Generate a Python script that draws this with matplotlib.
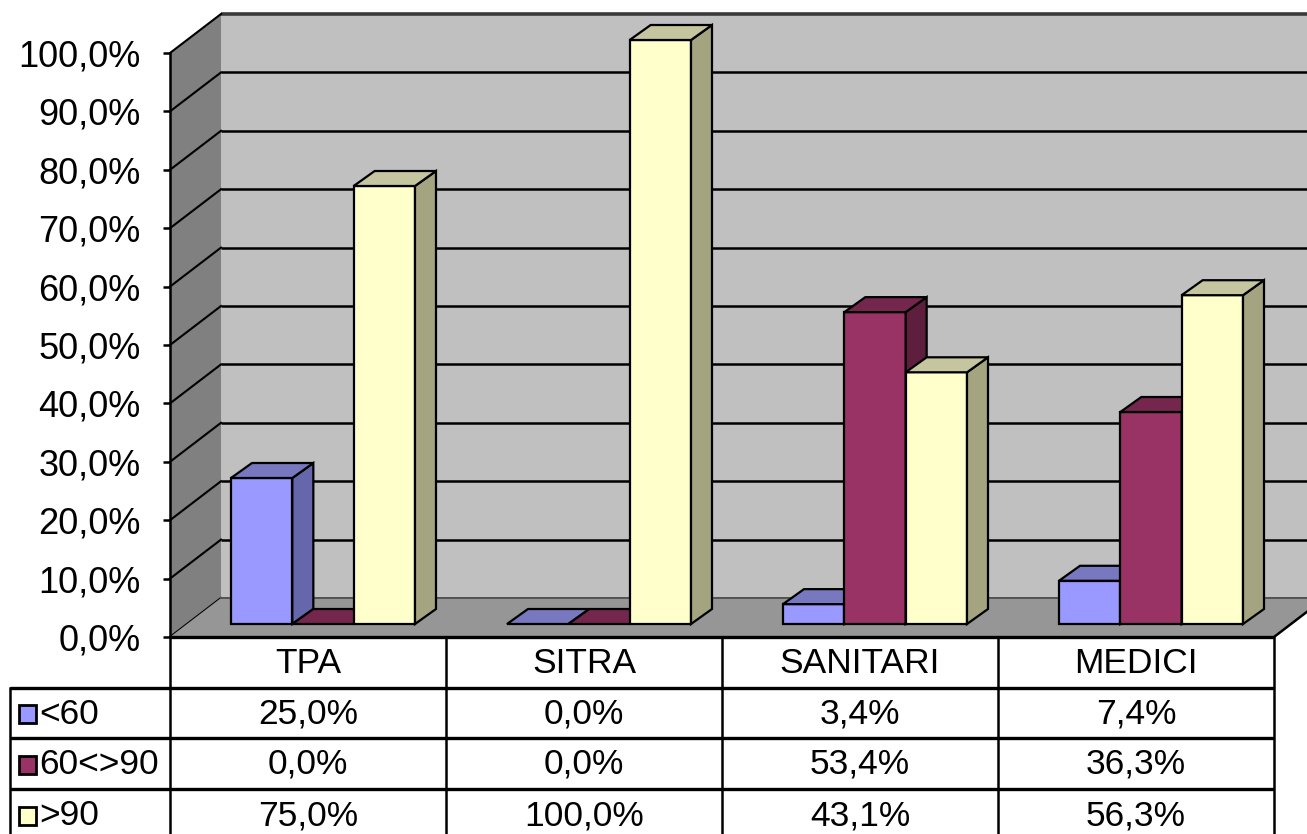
import matplotlib
matplotlib.use("Agg")
import matplotlib.pyplot as plt
from matplotlib.patches import Polygon, Rectangle
from matplotlib.ticker import FuncFormatter

# ---------------- data ----------------
categories = ["TPA", "SITRA", "SANITARI", "MEDICI"]
series_names = ["<60", "60<>90", ">90"]
s_lt60 = [25.0, 0.0, 3.4, 7.4]
s_60_90 = [0.0, 0.0, 53.4, 36.3]
s_gt90 = [75.0, 100.0, 43.1, 56.3]
series_values = [s_lt60, s_60_90, s_gt90]
y_ticks = [0, 10, 20, 30, 40, 50, 60, 70, 80, 90, 100]

# ---------------- style ----------------
front_cols = ["#9999FF", "#993366", "#FFFFCC"]
side_cols = ["#6666AA", "#5E1F3E", "#A4A481"]
top_cols = ["#7878C0", "#74264C", "#C5C59F"]
FONT = "Liberation Sans"
FS_AX = 26
FS_TB = 25.5

W, H = 1307, 834
DPI = 100
fig = plt.figure(figsize=(W / DPI, H / DPI), dpi=DPI)
fig.patch.set_facecolor("white")

# front plane of the 3D box
X0, Y0 = 170, 637
PX_CAT, PX_PCT = 276, 5.84
ax = fig.add_axes([X0 / W, (H - Y0) / H, 4 * PX_CAT / W, 100 * PX_PCT / H])
ax.set_xlim(0, len(categories))
ax.set_ylim(0, 100)
ax.patch.set_visible(False)
for s in ["top", "right", "bottom"]:
    ax.spines[s].set_visible(False)
ax.spines["left"].set_linewidth(1.8)
ax.spines["left"].set_zorder(5)
ax.set_xticks([])
ax.set_yticks(y_ticks)
ax.yaxis.set_major_formatter(FuncFormatter(lambda v, p: f"{v:.1f}%".replace(".", ",")))
ax.tick_params(axis="y", direction="out", length=5, width=1.8, pad=16)
for lab in ax.get_yticklabels():
    lab.set_fontfamily(FONT)
    lab.set_fontsize(FS_AX)

# pixel -> data scale
p0 = ax.transData.transform((0, 0))
p1 = ax.transData.transform((1, 1))
sx, sy = p1[0] - p0[0], p1[1] - p0[1]
scale = DPI / 100.0


def off(dx_px, dy_px):
    return dx_px * scale / sx, dy_px * scale / sy


wx, wy = off(51, 39)   # full depth of the box
fx, fy = off(15, 13)   # bar front plane
bx, by = off(36, 28)   # bar back plane
ncat = len(categories)

# left wall
ax.add_patch(Polygon([(0, 0), (0, 100), (wx, 100 + wy), (wx, wy)], closed=True,
                     facecolor="#808080", edgecolor="none", zorder=0.5, clip_on=False))
# back wall
ax.add_patch(Polygon([(wx, wy), (wx, 100 + wy), (ncat + wx, 100 + wy), (ncat + wx, wy)],
                     closed=True, facecolor="#C0C0C0", edgecolor="none", zorder=0.5, clip_on=False))
# gridlines
for v in y_ticks:
    col = "#3A3A3A" if v == 100 else "black"
    lw = 2.6 if v == 100 else 1.8
    ax.plot([wx, ncat + wx], [v + wy, v + wy], color=col, lw=lw, zorder=1, clip_on=False,
            solid_capstyle="butt")
    ax.plot([0, wx], [v, v + wy], color="black", lw=1.5, zorder=1, clip_on=False)
# floor
ax.add_patch(Polygon([(0, 0), (ncat, 0), (ncat + wx, wy), (wx, wy)], closed=True,
                     facecolor="#969696", edgecolor="none", zorder=2, clip_on=False))
ax.plot([wx, ncat + wx], [wy, wy], color="#555555", lw=1.4, zorder=2.1, clip_on=False)
ax.plot([ncat, ncat + wx], [0, wy], color="black", lw=1.8, zorder=2.1, clip_on=False)

# bars
bw = 1 / 4.5
z = 3
for i in range(ncat):
    for j, vals in enumerate(series_values):
        v = vals[i]
        xl = i + 0.5 - 1.5 * bw + j * bw
        xr = xl + bw
        ekw = dict(edgecolor="black", linewidth=1.6, joinstyle="miter", clip_on=False)
        if v > 0:
            ax.add_patch(Polygon([(xl + fx, fy), (xr + fx, fy), (xr + fx, fy + v), (xl + fx, fy + v)],
                                 closed=True, facecolor=front_cols[j], zorder=z, **ekw))
            ax.add_patch(Polygon([(xr + fx, fy), (xr + fx, fy + v), (xr + bx, by + v), (xr + bx, by)],
                                 closed=True, facecolor=side_cols[j], zorder=z, **ekw))
        ax.add_patch(Polygon([(xl + fx, fy + v), (xr + fx, fy + v), (xr + bx, by + v), (xl + bx, by + v)],
                             closed=True, facecolor=top_cols[j], zorder=z, **ekw))
        z += 0.01

# ---------------- data table (pixel overlay) ----------------
axt = fig.add_axes([0, 0, 1, 1])
axt.set_xlim(0, W)
axt.set_ylim(H, 0)
axt.axis("off")
axt.patch.set_visible(False)

col_edges = [X0 + k * PX_CAT for k in range(ncat + 1)]
row_edges = [637, 688, 738, 789, 840]
LEFT = 10

axt.plot([col_edges[0], col_edges[-1]], [row_edges[0]] * 2, color="black", lw=2.4, solid_capstyle="butt")
for ry in row_edges[1:4]:
    axt.plot([LEFT, col_edges[-1]], [ry, ry], color="black", lw=2.4, solid_capstyle="butt")
for cx in col_edges:
    axt.plot([cx, cx], [row_edges[0], H], color="black", lw=1.8)
axt.plot([LEFT, LEFT], [row_edges[1], H], color="black", lw=1.8)

for k, c in enumerate(categories):
    cx = (col_edges[k] + col_edges[k + 1]) / 2
    axt.text(cx, (row_edges[0] + row_edges[1]) / 2 + 1, c, ha="center", va="center",
             fontfamily=FONT, fontsize=FS_TB)

for j, (name, vals) in enumerate(zip(series_names, series_values)):
    cy = (row_edges[j + 1] + row_edges[j + 2]) / 2 + 1
    axt.add_patch(Rectangle((19, cy - 9), 17, 18, facecolor=front_cols[j], edgecolor="black", lw=2.0))
    axt.text(39, cy, name, ha="left", va="center", fontfamily=FONT, fontsize=FS_TB)
    for k, v in enumerate(vals):
        cx = (col_edges[k] + col_edges[k + 1]) / 2
        axt.text(cx, cy, f"{v:.1f}%".replace(".", ","), ha="center", va="center",
                 fontfamily=FONT, fontsize=FS_TB)

fig.savefig("out.png", dpi=DPI, facecolor="white")
